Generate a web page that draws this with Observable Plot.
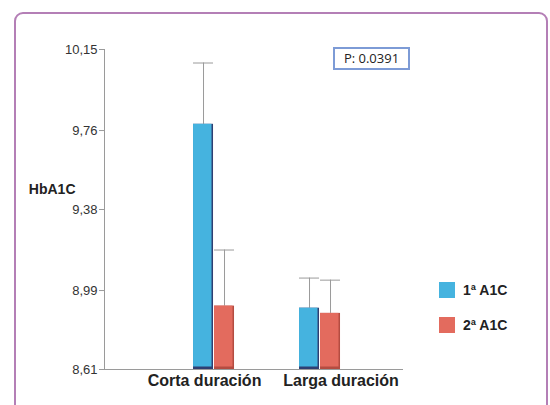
<!DOCTYPE html>
<html>
<head>
<meta charset="utf-8">
<script src="https://cdn.jsdelivr.net/npm/d3@7"></script>
<script src="https://cdn.jsdelivr.net/npm/@observablehq/plot@0.6"></script>
<style>
  html, body { margin: 0; padding: 0; background: #fff; }
  #wrap { position: relative; width: 550px; height: 405px; overflow: hidden; font-family: "Liberation Sans", Arial, sans-serif; }
  #frame { position: absolute; left: 14px; top: 12px; width: 530px; height: 430px; border: 2px solid #b47fb6; border-radius: 9px; box-sizing: content-box; }
  #chart { position: absolute; left: 0; top: 0; }
  #pbox { position: absolute; left: 333px; top: 47px; width: 73px; height: 19px; border: 2px solid #7d9bd6; font-family: "Open Sans", sans-serif; font-size: 13px; color: #222; line-height: 19px; text-align: center; }
  .leg { position: absolute; left: 439px; display: flex; align-items: center; font-weight: bold; font-size: 14px; color: #222; }
  .sw { width: 16px; height: 16px; margin-right: 8px; }
</style>
</head>
<body>
<div id="wrap">
  <div id="frame"></div>
  <div id="chart"></div>
  <div id="pbox"></div>
  <div id="legend"></div>
</div>
<script>
const categories = ["Corta duración", "Larga duración"];
const series = ["1ª A1C", "2ª A1C"];
const colors = ["#45b3df", "#e36b5e"];
const shadowColors = ["#2f3f72", "#b44c41"];
const means1 = [9.79, 8.905];
const means2 = [8.915, 8.88];
const upper1 = [10.085, 9.05];
const upper2 = [9.185, 9.04];
const yTicks = [8.61, 8.99, 9.38, 9.76, 10.15];
const yLabel = "HbA1C";
const pText = "P: 0.0391";

const means = [means1, means2];
const uppers = [upper1, upper2];
const rows = [];
series.forEach((s, si) => categories.forEach((c, ci) => rows.push({category: c, series: s, si, value: means[si][ci], upper: uppers[si][ci]})));

const insets = [{insetLeft: 6, insetRight: 27, dx: -10.5}, {insetLeft: 27, insetRight: 6, dx: 10.5}];

const seriesMarks = series.flatMap((s, si) => {
  const data = rows.filter(d => d.si === si);
  const ins = insets[si];
  return [
    Plot.ruleX(data, {x: "category", y1: "value", y2: "upper", dx: ins.dx, stroke: "#9a9a9a", strokeWidth: 1}),
    Plot.tickY(data, {x: "category", y: "upper", insetLeft: ins.insetLeft, insetRight: ins.insetRight, stroke: "#9a9a9a", strokeWidth: 1}),
    Plot.barY(data, {x: "category", y1: yTicks[0], y2: "value", insetLeft: ins.insetLeft, insetRight: ins.insetRight, fill: shadowColors[si]}),
    Plot.barY(data, {x: "category", y1: yTicks[0], y2: "value", insetLeft: ins.insetLeft, insetRight: ins.insetRight + 1.5, insetBottom: 2.5, fill: colors[si]})
  ];
});

const labelDx = [-9.5, 21];

const chart = Plot.plot({
  width: 550,
  height: 405,
  marginLeft: 104,
  marginRight: 147,
  marginTop: 49,
  marginBottom: 36,
  style: {fontFamily: "'Liberation Sans', Arial, sans-serif", background: "transparent", overflow: "visible"},
  x: {type: "band", domain: categories, paddingInner: 0.5, paddingOuter: 0.6604, align: 0.593, round: false, axis: null},
  y: {domain: [yTicks[0], yTicks[yTicks.length - 1]], axis: null},
  marks: [
    Plot.frame({anchor: "left", stroke: "#9a9a9a"}),
    Plot.ruleY([yTicks[0]], {stroke: "#9a9a9a"}),
    Plot.axisY(yTicks, {tickFormat: d => d.toFixed(2).replace(".", ","), tickSize: 5, tickPadding: 2, fontSize: 13, stroke: "#9a9a9a", fill: "#333", label: null}),
    ...seriesMarks,
    ...categories.map((c, i) => Plot.text([c], {x: d => d, frameAnchor: "bottom", lineAnchor: "top", dy: 5, dx: labelDx[i], fontSize: 16, fontWeight: "bold", fill: "#222"})),
    Plot.text([yLabel], {frameAnchor: "left", textAnchor: "end", dx: -29, dy: -20, fontSize: 14, fontWeight: "bold", fill: "#222"})
  ]
});
document.getElementById("chart").appendChild(chart);

document.getElementById("pbox").textContent = pText;
const legend = document.getElementById("legend");
const legTops = [282, 317];
series.forEach((s, i) => {
  const el = document.createElement("div");
  el.className = "leg";
  el.style.top = legTops[i] + "px";
  const sw = document.createElement("div");
  sw.className = "sw";
  sw.style.background = colors[i];
  el.appendChild(sw);
  const t = document.createElement("span");
  t.textContent = s;
  el.appendChild(t);
  legend.appendChild(el);
});
</script>
</body>
</html>
